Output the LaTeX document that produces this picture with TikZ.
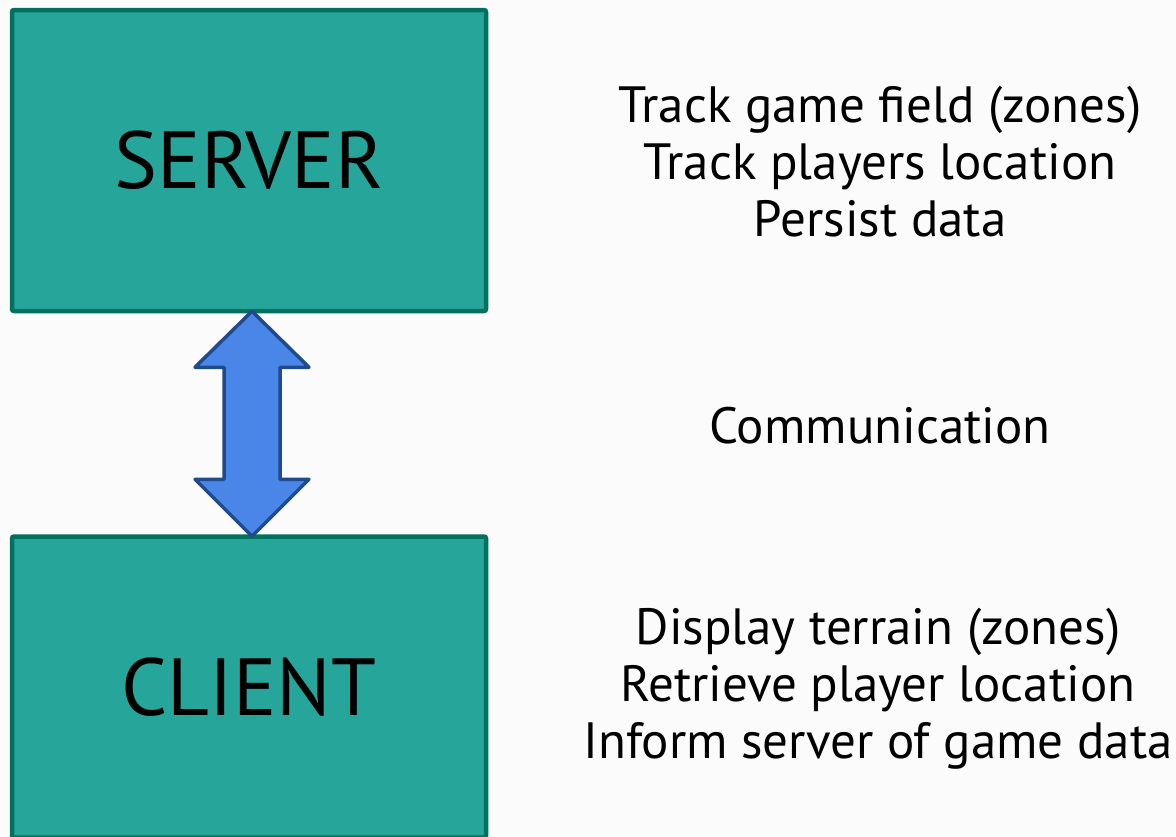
\documentclass[tikz,border=0pt]{standalone}
\usepackage{fontspec}
\setmainfont{PT Sans}
\usetikzlibrary{calc, positioning}

\definecolor{boxfill}{HTML}{26A69A}
\definecolor{boxline}{HTML}{00705F}
\definecolor{arrowfill}{HTML}{4A86E8}
\definecolor{arrowline}{HTML}{1F4A8C}
\definecolor{pagebg}{HTML}{FBFBFB}

\tikzset{
	tier/.style={draw=boxline, fill=boxfill, line width=4.5pt, rounded corners=2pt,
		minimum width=474pt, minimum height=301pt, font=\fontsize{81}{98}\selectfont},
	tasks/.style={align=center, font=\fontsize{51}{57}\selectfont}
}

\begin{document}
\begin{tikzpicture}[x=1pt, y=-1pt]
				\clip (0, 0) rectangle (1176, 836);
				\fill[pagebg] (0, 0) rectangle (1176, 836);

				\node[tier] (server) at (249, 160.5) {SERVER};
				\node[tier] (client) at (249, 687) {CLIENT};

				\coordinate (top) at ($(server.south)+(3, -2)$);
				\coordinate (bot) at ($(client.north)+(3, 2)$);
				\draw[arrowline, fill=arrowfill, line width=3.5pt, line join=round]
					(top) -- ++(57, 56) -- ++(-29, 0) -- ($(bot)+(28, -57)$) -- ++(29, 0)
					-- (bot) -- ++(-57, -57) -- ++(29, 0) -- ($(top)+(-28, 56)$) -- ++(-29, 0) -- cycle;

				\node[tasks] (servertasks) at (880, 162) {Track game field (zones)\\Track players location\\Persist data};
				\node[tasks] (commtask) at (880, 426) {Communication};
				\node[tasks] (clienttasks) at (878, 689) {Display terrain (zones)\\Retrieve player location\\Inform server of game data};
\end{tikzpicture}
\end{document}
